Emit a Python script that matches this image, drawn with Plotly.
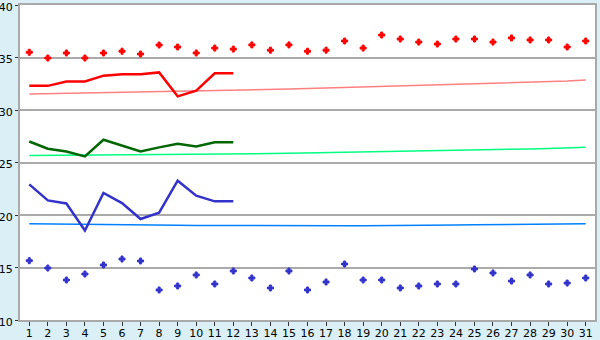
import plotly.graph_objects as go

days = list(range(1, 32))

red_pts = [35.5, 34.95, 35.43, 34.95, 35.43, 35.6, 35.33, 36.19, 36.0, 35.43,
           35.9, 35.8, 36.2, 35.7, 36.2, 35.6, 35.7, 36.57, 35.9, 37.14,
           36.76, 36.47, 36.28, 36.76, 36.76, 36.47, 36.86, 36.67, 36.67, 36.0, 36.57]
red_line = [32.31, 32.3, 32.72, 32.72, 33.27, 33.4, 33.4, 33.58, 31.3, 31.85, 33.49, 33.49]
pink_line = [31.52, 31.55, 31.58, 31.62, 31.65, 31.68, 31.71, 31.73, 31.76, 31.8,
             31.83, 31.86, 31.9, 31.95, 32.0, 32.05, 32.1, 32.15, 32.19, 32.24,
             32.29, 32.34, 32.38, 32.43, 32.48, 32.53, 32.57, 32.62, 32.67, 32.76, 32.86]
green_line = [27.0, 26.31, 26.05, 25.58, 27.17, 26.63, 26.05, 26.44, 26.79, 26.53, 26.92, 26.92]
lgreen_line = [25.66, 25.67, 25.68, 25.68, 25.69, 25.7, 25.71, 25.74, 25.76, 25.77,
               25.78, 25.8, 25.83, 25.85, 25.87, 25.9, 25.93, 25.96, 25.98, 26.0,
               26.02, 26.05, 26.09, 26.12, 26.16, 26.19, 26.24, 26.29, 26.34, 26.4, 26.46]
blue_line = [22.92, 21.39, 21.1, 18.53, 22.1, 21.14, 19.62, 20.22, 23.27, 21.84, 21.3, 21.3]
lblue_line = [19.17, 19.16, 19.15, 19.13, 19.11, 19.08, 19.06, 19.04, 19.02, 19.0,
              18.99, 18.98, 18.98, 18.98, 18.98, 18.98, 18.98, 18.98, 18.98, 18.98,
              18.99, 19.0, 19.02, 19.04, 19.06, 19.08, 19.1, 19.12, 19.14, 19.16, 19.17]
blue_pts = [15.65, 14.95, 13.81, 14.38, 15.24, 15.81, 15.62, 12.86, 13.24, 14.29,
            13.43, 14.67, 14.0, 13.05, 14.67, 12.86, 13.62, 15.33, 13.81, 13.81,
            13.05, 13.24, 13.43, 13.43, 14.86, 14.48, 13.71, 14.29, 13.43, 13.52, 14.0]

fig = go.Figure()
fig.add_trace(go.Scatter(x=days, y=pink_line, mode="lines", line=dict(color="#FF8080", width=1.5)))
fig.add_trace(go.Scatter(x=days, y=lgreen_line, mode="lines", line=dict(color="#00FF80", width=1.5)))
fig.add_trace(go.Scatter(x=days, y=lblue_line, mode="lines", line=dict(color="#0080FF", width=1.5)))
fig.add_trace(go.Scatter(x=days[:12], y=red_line, mode="lines", line=dict(color="#FF0000", width=2.5)))
fig.add_trace(go.Scatter(x=days[:12], y=green_line, mode="lines", line=dict(color="#006600", width=2.5)))
fig.add_trace(go.Scatter(x=days[:12], y=blue_line, mode="lines", line=dict(color="#3333CC", width=2.5)))
fig.add_trace(go.Scatter(x=days, y=red_pts, mode="markers",
                         marker=dict(symbol="cross", size=5, color="#FF0000",
                                     line=dict(width=1, color="#FF0000"))))
fig.add_trace(go.Scatter(x=days, y=blue_pts, mode="markers",
                         marker=dict(symbol="cross", size=5, color="#3333CC",
                                     line=dict(width=1, color="#3333CC"))))

fig.update_layout(
    width=600, height=340,
    margin=dict(l=20, r=5, t=5, b=20),
    paper_bgcolor="#DAF0F6", plot_bgcolor="#FFFFFF",
    showlegend=False,
    font=dict(family="DejaVu Sans", size=11, color="#000000"),
)
fig.update_xaxes(range=[0.5, 31.5], tickmode="array", tickvals=days, ticktext=[str(d) for d in days],
                 showgrid=False, zeroline=False, showline=True, linecolor="#AAAAAA", linewidth=2,
                 mirror=True, ticks="outside", ticklen=4, tickcolor="#333333",
                 tickfont=dict(size=11), automargin=False, ticklabeloverflow="allow",
                 ticklabelstandoff=-2)
fig.update_yaxes(range=[10, 40], tickvals=[10, 15, 20, 25, 30, 35, 40],
                 showgrid=True, gridcolor="#AAAAAA", gridwidth=1.5, zeroline=False,
                 showline=True, linecolor="#AAAAAA", linewidth=2, mirror=True,
                 ticks="outside", ticklen=3, tickcolor="#333333",
                 tickfont=dict(size=11), automargin=False, ticklabeloverflow="allow",
                 ticklabelshift=2)

fig.write_html("out.html")
